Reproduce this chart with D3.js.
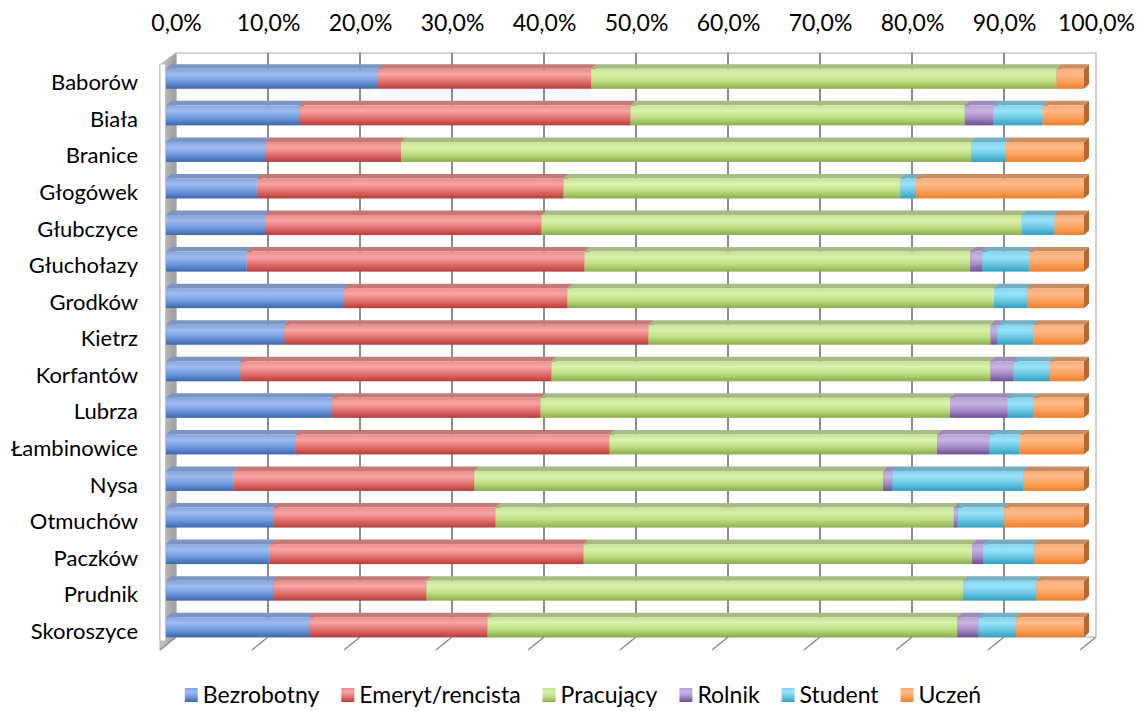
<!DOCTYPE html>
<html><head><meta charset="utf-8">
<script src="https://cdn.jsdelivr.net/npm/d3@7"></script>
<style>
body{margin:0;background:#fff}
svg{display:block}
text{font-family:Lato,"Liberation Sans",sans-serif;fill:#000}
</style>
</head><body>
<svg id="chart" width="1148" height="711"></svg>
<script>
const categories = ["Baborów","Biała","Branice","Głogówek","Głubczyce","Głuchołazy","Grodków","Kietrz","Korfantów","Lubrza","Łambinowice","Nysa","Otmuchów","Paczków","Prudnik","Skoroszyce"];
const seriesNames = ["Bezrobotny","Emeryt/rencista","Pracujący","Rolnik","Student","Uczeń"];
const bezrobotny = [23.1,14.5,10.9,9.9,10.8,8.8,19.4,12.9,8.1,18.1,14.1,7.4,11.7,11.3,11.7,15.6];
const emerytRencista = [23.2,36.1,14.7,33.4,30.1,36.8,24.3,39.7,33.9,22.7,34.2,26.2,24.2,34.2,16.7,19.4];
const pracujacy = [50.7,36.4,62.1,36.7,52.3,42.0,46.5,37.3,47.8,44.6,35.7,44.6,49.9,42.3,58.5,51.2];
const rolnik = [0,3.1,0,0,0,1.3,0,0.8,2.5,6.3,5.7,1.0,0.4,1.2,0,2.3];
const student = [0,5.4,3.8,1.7,3.6,5.1,3.6,3.9,4.0,2.8,3.3,14.3,5.1,5.6,8.0,4.1];
const uczen = [3.0,4.5,8.5,18.3,3.2,6.0,6.2,5.5,3.7,5.5,7.0,6.6,8.7,5.4,5.2,7.4];
const tickValues = [0,0.1,0.2,0.3,0.4,0.5,0.6,0.7,0.8,0.9,1.0];
const tickLabels = ["0,0%","10,0%","20,0%","30,0%","40,0%","50,0%","60,0%","70,0%","80,0%","90,0%","100,0%"];

// colour styles: [gradient stops (top..bottom), top face, side face]
const styles = [
  {stops:["#86a5de","#9dbbef","#729bdf","#3a67b0"], top:"#7d94c0", side:"#3c64a2"},
  {stops:["#e98d8c","#f6a4a3","#e3726f","#b83c39"], top:"#c37b79", side:"#9c3532"},
  {stops:["#c7e396","#d9f1aa","#bfdd84","#8aad49"], top:"#a8bb87", side:"#789a3c"},
  {stops:["#b4a0d4","#c6b3e3","#a68dca","#6c4f94"], top:"#9d8bb7", side:"#5c4380"},
  {stops:["#82d3ef","#9ae2fa","#6dc8e4","#31a0c0"], top:"#76adc0", side:"#2b8aa6"},
  {stops:["#f8ac76","#fdba8b","#f9a15e","#ef7f2a"], top:"#c98d63", side:"#b6672e"}
];

const seriesArrays = [bezrobotny, emerytRencista, pracujacy, rolnik, student, uczen];
const table = categories.map((c,i)=>{
  const o = {category:c};
  seriesNames.forEach((s,j)=>o[s]=seriesArrays[j][i]);
  return o;
});
const stacked = d3.stack().keys(seriesNames).offset(d3.stackOffsetExpand)(table);

const svg = d3.select("#chart");
const defs = svg.append("defs");
styles.forEach((st,i)=>{
  const g = defs.append("linearGradient").attr("id","grad"+i)
    .attr("x1",0).attr("y1",0).attr("x2",0).attr("y2",1);
  [0,0.28,0.62,1].forEach((o,k)=>g.append("stop").attr("offset",o).attr("stop-color",st.stops[k]));
});
const wallGrad = defs.append("linearGradient").attr("id","wallGrad").attr("x1",0).attr("x2",1).attr("y1",0).attr("y2",0);
wallGrad.append("stop").attr("offset",0).attr("stop-color","#c8c8c8");
wallGrad.append("stop").attr("offset",1).attr("stop-color","#9c9c9c");

// 3D geometry
const xFront = d3.scaleLinear().domain([0,1]).range([160,1080]);
const xBack  = d3.scaleLinear().domain([0,1]).range([176,1096]);
const xBar   = d3.scaleLinear().domain([0,1]).range([166,1084]);
const yTopFront = 65, yBotFront = 650, yTopBack = 53, yBotBack = 637;
const yBand = d3.scaleBand().domain(categories).range([yTopFront,yBotFront]).padding(0);
const barLift = 4.5, barH = 20, dDx = 5, dDy = -4.5;

// back wall
svg.append("rect").attr("x",xBack(0)).attr("y",yTopBack)
  .attr("width",xBack(1)-xBack(0)).attr("height",yBotBack-yTopBack)
  .attr("fill","#fff").attr("stroke","#c4c4c4").attr("stroke-width",1.5);
svg.append("g").selectAll("line").data(tickValues.slice(1,-1)).join("line")
  .attr("x1",d=>xBack(d)).attr("x2",d=>xBack(d))
  .attr("y1",yTopBack).attr("y2",yBotBack)
  .attr("stroke","#8c8c8c").attr("stroke-width",2);

// left wall
svg.append("path")
  .attr("d",`M${xFront(0)},${yTopFront}L${xBack(0)},${yTopBack}L${xBack(0)},${yBotBack}L${xFront(0)},${yBotFront}Z`)
  .attr("fill","url(#wallGrad)").attr("stroke","#b0b0b0").attr("stroke-width",1);
svg.append("rect").attr("x",xFront(0)).attr("y",yTopFront-1)
  .attr("width",xBar(0)-xFront(0)-0.5).attr("height",yBotFront-yTopFront-8)
  .attr("fill","#fff").attr("stroke","#bdbdbd").attr("stroke-width",1);

// floor grid ticks
svg.append("g").selectAll("line").data(tickValues).join("line")
  .attr("x1",d=>xBack(d)).attr("y1",yBotBack)
  .attr("x2",d=>xFront(d)).attr("y2",yBotFront)
  .attr("stroke","#8c8c8c").attr("stroke-width",1.5);

// bars
const barG = svg.append("g");
categories.forEach((c,ci)=>{
  const yT = yBand(c) + yBand.bandwidth()/2 - barLift - barH/2;
  const yB = yT + barH;
  stacked.forEach((layer,si)=>{
    const d = layer[ci];
    const x0 = xBar(d[0]), x1 = xBar(d[1]);
    if (x1 - x0 < 0.01) return;
    const st = styles[si];
    const g = barG.append("g");
    g.append("path").attr("d",`M${x1},${yT}L${x1+dDx},${yT+dDy}L${x1+dDx},${yB+dDy}L${x1},${yB}Z`).attr("fill",st.side);
    g.append("path").attr("d",`M${x0},${yT}L${x0+dDx},${yT+dDy}L${x1+dDx},${yT+dDy}L${x1},${yT}Z`).attr("fill",st.top);
    g.append("rect").attr("x",x0).attr("y",yT).attr("width",x1-x0).attr("height",barH).attr("fill",`url(#grad${si})`);
  });
});

// top axis labels
const topAxis = d3.axisTop(xBack).tickValues(tickValues)
  .tickFormat((d,i)=>tickLabels[i]).tickSize(0).tickPadding(0);
const ta = svg.append("g").attr("transform","translate(0,31)").call(topAxis);
ta.select(".domain").remove();
ta.selectAll("text").style("font-size","23px").style("font-family","Lato, 'Liberation Sans', sans-serif").attr("fill","#000");

// category labels
const leftAxis = d3.axisLeft(yBand).tickSize(0).tickPadding(22);
const la = svg.append("g").attr("transform",`translate(${xFront(0)},0)`).call(leftAxis);
la.select(".domain").remove();
la.selectAll("text").style("font-size","22px").style("font-family","Lato, 'Liberation Sans', sans-serif").attr("fill","#000");

// legend
const legend = svg.append("g");
let lx = 0;
seriesNames.forEach((s,i)=>{
  const g = legend.append("g").attr("transform",`translate(${lx},0)`);
  g.append("rect").attr("x",0).attr("y",-7).attr("width",13).attr("height",14).attr("fill",`url(#grad${i})`);
  const t = g.append("text").attr("x",18).attr("y",0).attr("dy","0.35em")
    .style("font-size","23px").text(s);
  lx += 18 + t.node().getComputedTextLength() + 22;
});
lx -= 22;
legend.attr("transform",`translate(${583 - lx/2},695)`);
</script>
</body></html>
